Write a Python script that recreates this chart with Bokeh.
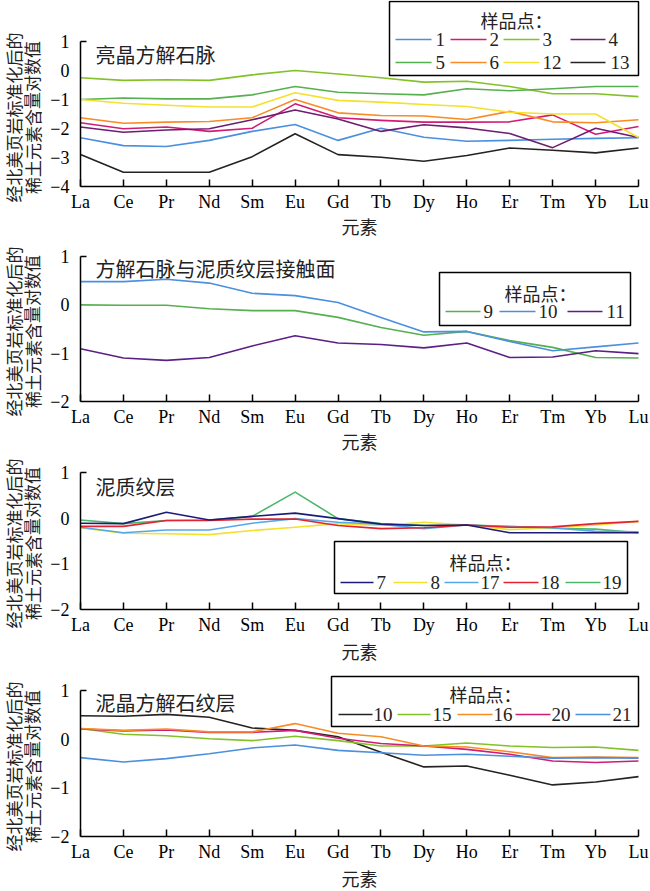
from bokeh.plotting import figure
from bokeh.models import FixedTicker, Label, BoxAnnotation, Arrow, Range1d
from bokeh.layouts import column
from bokeh.embed import file_html
from bokeh.resources import INLINE

elements = ["La", "Ce", "Pr", "Nd", "Sm", "Eu", "Gd", "Tb", "Dy", "Ho", "Er", "Tm", "Yb", "Lu"]

# ---- panel 1: 亮晶方解石脉
p1_ids = ["1", "2", "3", "4", "5", "6", "12", "13"]
p1_s1 = [-2.32, -2.59, -2.62, -2.41, -2.10, -1.86, -2.41, -1.99, -2.30, -2.44, -2.41, -2.37, -2.34, -2.32]
p1_s2 = [-1.80, -2.01, -1.95, -2.10, -1.99, -1.15, -1.63, -1.72, -1.78, -1.78, -1.77, -1.53, -2.20, -1.93]
p1_s3 = [-0.25, -0.34, -0.32, -0.34, -0.15, 0.00, -0.12, -0.25, -0.40, -0.37, -0.55, -0.80, -0.80, -0.90]
p1_s4 = [-1.95, -2.13, -2.05, -2.01, -1.70, -1.36, -1.67, -2.10, -1.87, -1.98, -2.17, -2.66, -1.99, -2.31]
p1_s5 = [-1.00, -0.95, -0.98, -0.98, -0.84, -0.55, -0.75, -0.80, -0.84, -0.63, -0.70, -0.63, -0.55, -0.55]
p1_s6 = [-1.63, -1.82, -1.78, -1.76, -1.63, -1.00, -1.46, -1.55, -1.57, -1.69, -1.41, -1.77, -1.80, -1.70]
p1_s12 = [-1.00, -1.13, -1.20, -1.26, -1.26, -0.77, -1.03, -1.09, -1.17, -1.24, -1.44, -1.50, -1.50, -2.31]
p1_s13 = [-2.90, -3.51, -3.51, -3.51, -2.97, -2.18, -2.90, -2.99, -3.13, -2.93, -2.67, -2.75, -2.84, -2.67]

# ---- panel 2: 方解石脉与泥质纹层接触面
p2_ids = ["9", "10", "11"]
p2_s9 = [0.00, -0.01, -0.01, -0.08, -0.12, -0.12, -0.26, -0.47, -0.63, -0.55, -0.74, -0.88, -1.09, -1.10]
p2_s10 = [0.48, 0.48, 0.53, 0.45, 0.24, 0.19, 0.05, -0.26, -0.56, -0.55, -0.76, -0.95, -0.87, -0.79]
p2_s11 = [-0.91, -1.10, -1.15, -1.09, -0.85, -0.64, -0.79, -0.82, -0.89, -0.79, -1.09, -1.08, -0.95, -1.01]

# ---- panel 3: 泥质纹层
p3_ids = ["7", "8", "17", "18", "19"]
p3_s7 = [-0.11, -0.12, 0.13, -0.04, 0.04, 0.11, -0.01, -0.13, -0.16, -0.15, -0.32, -0.32, -0.32, -0.32]
p3_s8 = [-0.21, -0.33, -0.34, -0.36, -0.27, -0.20, -0.12, -0.16, -0.09, -0.15, -0.25, -0.21, -0.15, -0.07]
p3_s17 = [-0.20, -0.32, -0.26, -0.26, -0.11, -0.01, -0.09, -0.13, -0.23, -0.15, -0.19, -0.21, -0.29, -0.30]
p3_s18 = [-0.18, -0.18, -0.05, -0.05, -0.02, -0.02, -0.16, -0.23, -0.21, -0.15, -0.20, -0.19, -0.12, -0.07]
p3_s19 = [-0.04, -0.12, -0.05, -0.04, 0.04, 0.57, -0.01, -0.12, -0.16, -0.15, -0.18, -0.22, -0.24, -0.32]

# ---- panel 4: 泥晶方解石纹层
p4_ids = ["10", "15", "16", "20", "21"]
p4_s10 = [0.48, 0.47, 0.51, 0.45, 0.23, 0.18, 0.05, -0.27, -0.57, -0.55, -0.74, -0.94, -0.88, -0.77]
p4_s15 = [0.22, 0.10, 0.07, 0.01, -0.03, 0.06, -0.03, -0.14, -0.14, -0.08, -0.14, -0.17, -0.16, -0.23]
p4_s16 = [0.22, 0.18, 0.21, 0.15, 0.15, 0.32, 0.12, 0.05, -0.14, -0.16, -0.26, -0.38, -0.37, -0.38]
p4_s20 = [0.21, 0.17, 0.19, 0.14, 0.14, 0.18, 0.02, -0.09, -0.14, -0.21, -0.31, -0.45, -0.48, -0.45]
p4_s21 = [-0.38, -0.47, -0.40, -0.30, -0.18, -0.12, -0.23, -0.28, -0.33, -0.31, -0.35, -0.39, -0.38, -0.39]

panel_titles = ["亮晶方解石脉", "方解石脉与泥质纹层接触面", "泥质纹层", "泥晶方解石纹层"]
x_title = "元素"
y_title_1 = "经北美页岩标准化后的"
y_title_2 = "稀土元素含量对数值"
legend_title = "样品点："

BLUE = "#4b8fdf"; MAGENTA = "#d11c76"; YGREEN = "#82c227"; PURPLE = "#6e1d6f"
GREEN = "#56b04f"; ORANGE = "#f98b24"; YELLOW = "#f3e12b"; BLACK = "#262220"
VIOLET = "#5b1f86"; NAVY = "#1c1c78"; LBLUE = "#55a8e8"; RED = "#e52232"; TEAL = "#4cb86a"

SERIF = "Liberation Serif"
CJK = "Noto Sans CJK SC"
TXT = "#222222"

FIG_W = 650
AX_L, AX_R = 80, 638  # page px of La and Lu (page margin is 0)

panels = [
    dict(title=panel_titles[0], ymin=-4, ymax=1, fig_top=0, height=241, atop=41, abot=186,
         series=[p1_s1, p1_s2, p1_s3, p1_s4, p1_s5, p1_s6, p1_s12, p1_s13], ids=p1_ids,
         colors=[BLUE, MAGENTA, YGREEN, PURPLE, GREEN, ORANGE, YELLOW, BLACK], order=None,
         title_pos=(95, 54), ylab_y=117, xlab_y=225,
         box=(389, 1, 638, 75), lt=(516, 19),
         entries=[(395, 431, 39, 435), (450, 486, 39, 489), (503, 539, 39, 542), (570, 605, 39, 608),
                  (395, 431, 62, 435), (450, 486, 62, 489), (503, 539, 62, 542), (570, 605, 62, 610)]),
    dict(title=panel_titles[1], ymin=-2, ymax=1, fig_top=241, height=216, atop=256, abot=401,
         series=[p2_s9, p2_s10, p2_s11], ids=p2_ids, colors=[GREEN, BLUE, VIOLET], order=None,
         title_pos=(95, 268), ylab_y=331, xlab_y=440,
         box=(439, 272, 630, 325), lt=(540, 292),
         entries=[(445, 480, 311, 483), (499, 535, 311, 538), (567, 602, 311, 606)]),
    dict(title=panel_titles[2], ymin=-2, ymax=1, fig_top=457, height=217, atop=472, abot=609,
         series=[p3_s7, p3_s8, p3_s17, p3_s18, p3_s19], ids=p3_ids,
         colors=[NAVY, YELLOW, LBLUE, RED, TEAL], order=[4, 1, 2, 3, 0],
         title_pos=(95, 486), ylab_y=543, xlab_y=650,
         box=(334, 541, 627, 593), lt=(485, 561),
         entries=[(340, 373, 582, 376), (393, 427, 582, 430), (444, 478, 582, 480),
                  (503, 538, 582, 540), (565, 600, 582, 602)]),
    dict(title=panel_titles[3], ymin=-2, ymax=1, fig_top=674, height=217, atop=690, abot=836,
         series=[p4_s10, p4_s15, p4_s16, p4_s20, p4_s21], ids=p4_ids,
         colors=[BLACK, YGREEN, ORANGE, MAGENTA, BLUE], order=[0, 1, 3, 2, 4],
         title_pos=(95, 702), ylab_y=766, xlab_y=877,
         box=(331, 676, 638, 726), lt=(485, 693),
         entries=[(338, 372, 714, 373), (397, 430, 714, 432), (457, 492, 714, 493),
                  (515, 550, 714, 551), (575, 610, 714, 612)]),
]

nx = len(elements) - 1
ppx = (AX_R - AX_L) / nx                      # px per element step

figs = []
for pn in panels:
    ymin, ymax = pn["ymin"], pn["ymax"]
    atop, abot = pn["atop"], pn["abot"]
    ftop, fbot = pn["fig_top"], pn["fig_top"] + pn["height"]
    ppu = (abot - atop) / (ymax - ymin)       # px per data unit

    def dx(px):
        return (px - AX_L) / ppx

    def dy(py, abot=abot, ppu=ppu, ymin=ymin):
        return ymin + (abot - py) / ppu

    # the frame fills the whole figure; the axes are pinned inside it
    p = figure(width=FIG_W, height=pn["height"], output_backend="svg", toolbar_location=None,
               x_range=Range1d(dx(0), dx(FIG_W)), y_range=Range1d(dy(fbot), dy(ftop)),
               min_border_left=0, min_border_right=0, min_border_top=0, min_border_bottom=0)
    p.outline_line_color = None
    p.xgrid.visible = False
    p.ygrid.visible = False
    p.background_fill_color = "white"
    p.border_fill_color = "white"

    xa = p.xaxis[0]
    xa.fixed_location = ymin
    xa.bounds = (0, nx)
    xa.ticker = FixedTicker(ticks=list(range(len(elements))))
    xa.major_label_overrides = {i: e for i, e in enumerate(elements)}
    xa.major_tick_in = 7
    xa.major_tick_out = 0
    xa.major_tick_line_width = 1.5
    xa.minor_tick_line_color = None
    xa.axis_line_width = 1.5
    xa.axis_line_color = "black"
    xa.major_label_text_font = SERIF
    xa.major_label_text_font_size = "18px"
    xa.major_label_text_color = "black"
    xa.major_label_standoff = 5

    ya = p.yaxis[0]
    yt = list(range(ymin, ymax + 1))
    ya.fixed_location = 0
    ya.bounds = (ymin, ymax)
    ya.ticker = FixedTicker(ticks=yt, minor_ticks=[ymax])
    ya.major_label_overrides = {v: (("\u2212%d" % -v) if v < 0 else str(v)) for v in yt}
    ya.major_tick_in = 0
    ya.major_tick_out = 0
    ya.major_tick_line_color = None
    ya.minor_tick_in = 6
    ya.minor_tick_out = 0
    ya.minor_tick_line_width = 1.5
    ya.minor_tick_line_color = "black"
    ya.axis_line_width = 1.5
    ya.axis_line_color = "black"
    ya.major_label_text_font = SERIF
    ya.major_label_text_font_size = "18px"
    ya.major_label_text_color = "black"
    ya.major_label_standoff = 11

    xs = list(range(len(elements)))
    order = pn["order"] if pn["order"] is not None else list(range(len(pn["series"])))
    for k in order:
        p.line(xs, pn["series"][k], line_color=pn["colors"][k], line_width=1.6, line_join="round")

    # axis titles
    p.add_layout(Label(x=dx(359), y=dy(pn["xlab_y"]), text=x_title, text_font=CJK, text_font_size="18px",
                       text_color=TXT, text_baseline="middle", text_align="center"))
    p.add_layout(Label(x=dx(13), y=dy(pn["ylab_y"]), text=y_title_1, text_font=CJK, text_font_size="17px",
                       text_color=TXT, text_baseline="middle", text_align="center", angle=1.5708))
    p.add_layout(Label(x=dx(31.5), y=dy(pn["ylab_y"]), text=y_title_2, text_font=CJK, text_font_size="17px",
                       text_color=TXT, text_baseline="middle", text_align="center", angle=1.5708))

    # panel title
    tx, ty = pn["title_pos"]
    p.add_layout(Label(x=dx(tx), y=dy(ty), text=pn["title"], text_font=CJK, text_font_size="20px",
                       text_color=TXT, text_baseline="middle", text_align="left"))

    # legend
    bl, btp, br, bbt = pn["box"]
    p.add_layout(BoxAnnotation(left=dx(bl), right=dx(br), top=dy(btp), bottom=dy(bbt),
                               fill_color="white", fill_alpha=1.0, line_color="black",
                               line_alpha=1.0, line_width=1.5))
    lx, ly = pn["lt"]
    p.add_layout(Label(x=dx(lx), y=dy(ly), text=legend_title, text_font=CJK, text_font_size="18px",
                       text_color=TXT, text_baseline="middle", text_align="center"))
    for k, (x0, x1, ey, lbx) in enumerate(pn["entries"]):
        p.add_layout(Arrow(x_start=dx(x0), y_start=dy(ey), x_end=dx(x1), y_end=dy(ey),
                           start=None, end=None, line_color=pn["colors"][k], line_width=1.6))
        p.add_layout(Label(x=dx(lbx), y=dy(ey), text=pn["ids"][k], text_font=SERIF, text_font_size="19px",
                           text_color=TXT, text_baseline="middle", text_align="left"))
    figs.append(p)

layout = column(*figs, spacing=0)
open("out.html", "w").write(file_html(layout, INLINE))
